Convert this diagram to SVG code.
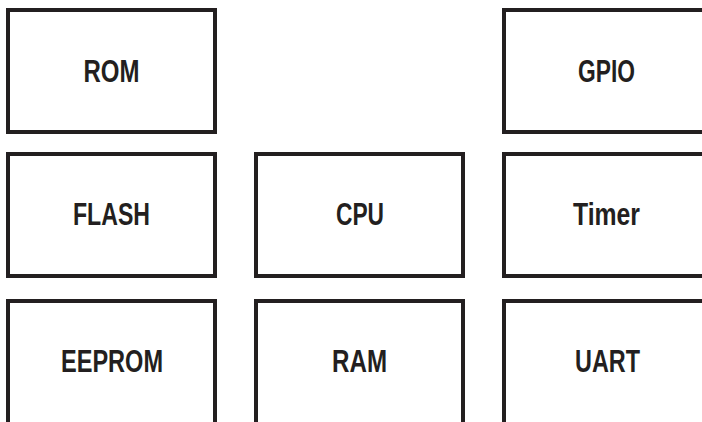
<svg xmlns="http://www.w3.org/2000/svg" width="702" height="422" viewBox="0 0 702 422">
<style>
.box{fill:#fff;stroke:#231f20;stroke-width:4}
.lbl{font-family:"Liberation Sans",Arial,sans-serif;font-size:32px;font-weight:bold;fill:#231f20;text-anchor:middle}
</style>
<rect width="702" height="422" fill="#fff"/>
<g id="rom"><rect class="box" x="8" y="10" width="207" height="122"/><text class="lbl" x="111.5" y="82" textLength="56" lengthAdjust="spacingAndGlyphs">ROM</text></g>
<g id="gpio"><rect class="box" x="504" y="10" width="207" height="122"/><text class="lbl" x="606.5" y="82" textLength="57" lengthAdjust="spacingAndGlyphs">GPIO</text></g>
<g id="flash"><rect class="box" x="8" y="154" width="207" height="122"/><text class="lbl" x="111.5" y="225" textLength="77" lengthAdjust="spacingAndGlyphs">FLASH</text></g>
<g id="cpu"><rect class="box" x="256" y="154" width="207" height="122"/><text class="lbl" x="360" y="225" textLength="48" lengthAdjust="spacingAndGlyphs">CPU</text></g>
<g id="timer"><rect class="box" x="504" y="154" width="207" height="122"/><text class="lbl" x="606.5" y="225" textLength="67" lengthAdjust="spacingAndGlyphs">Timer</text></g>
<g id="eeprom"><rect class="box" x="8" y="301" width="207" height="124"/><text class="lbl" x="112" y="372" textLength="102" lengthAdjust="spacingAndGlyphs">EEPROM</text></g>
<g id="ram"><rect class="box" x="256" y="301" width="207" height="124"/><text class="lbl" x="359.5" y="372" textLength="55" lengthAdjust="spacingAndGlyphs">RAM</text></g>
<g id="uart"><rect class="box" x="504" y="301" width="207" height="124"/><text class="lbl" x="607.5" y="372" textLength="65" lengthAdjust="spacingAndGlyphs">UART</text></g>
<g id="connectors"></g>
</svg>
